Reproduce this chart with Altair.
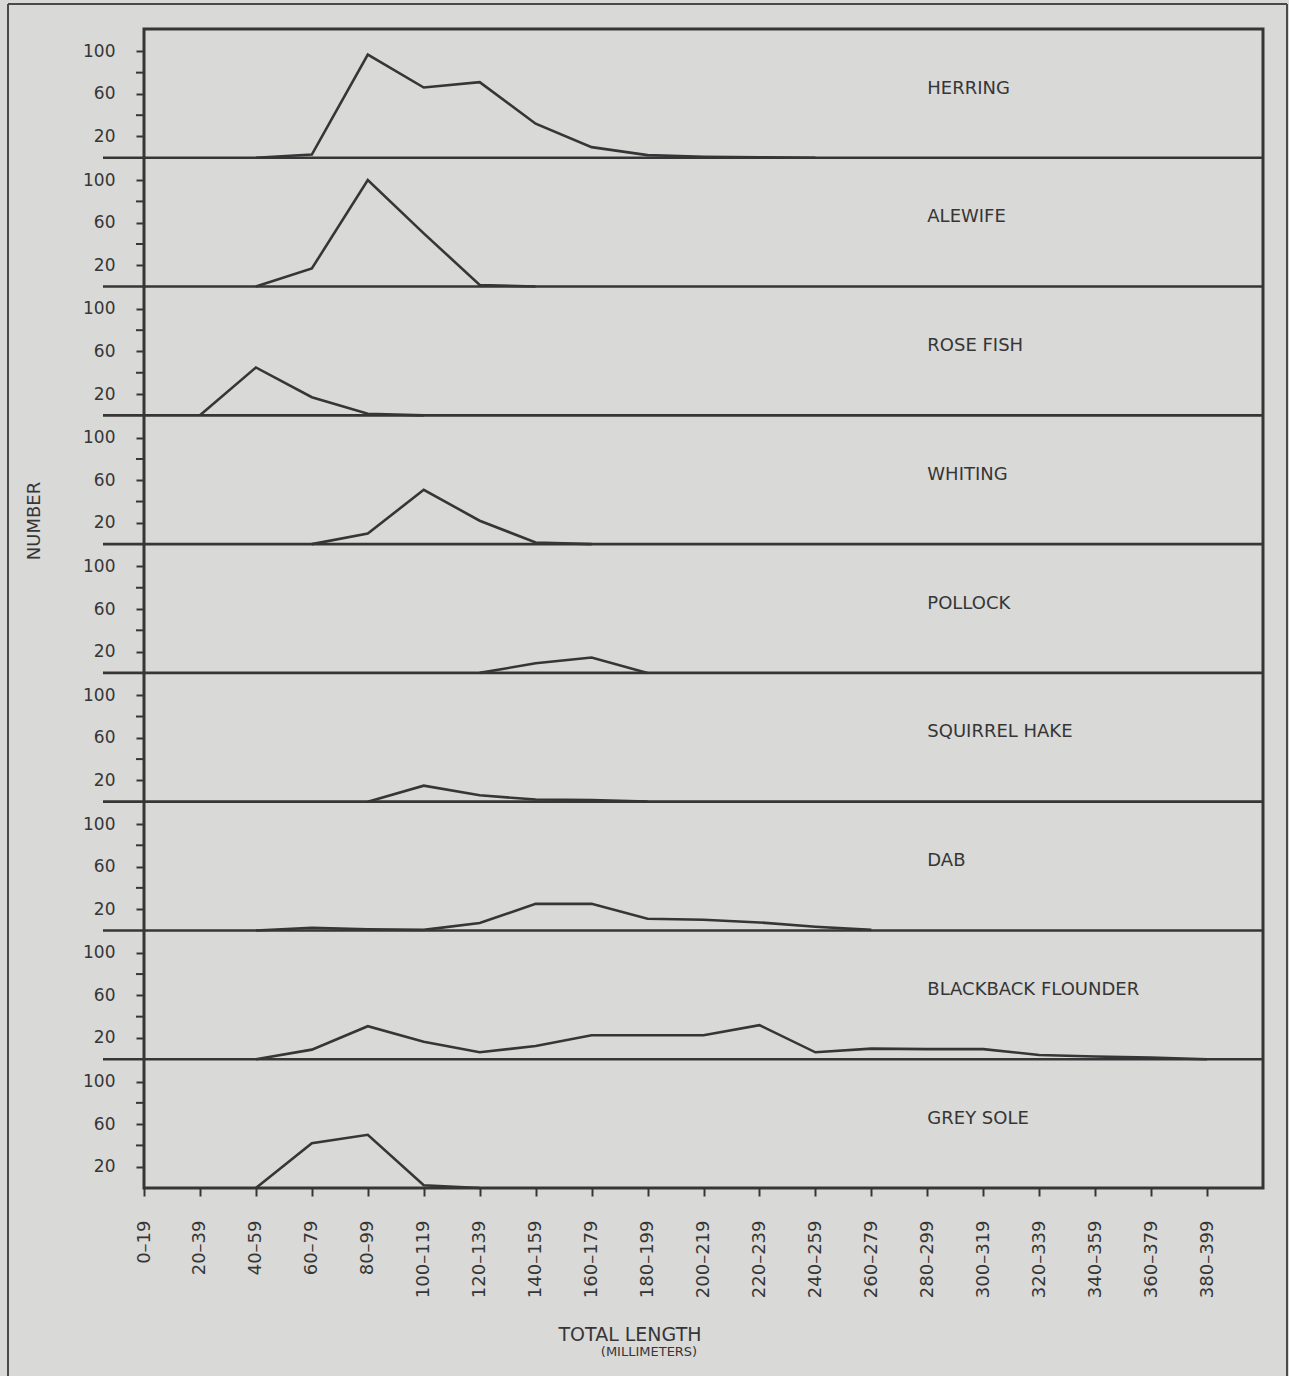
import altair as alt
import pandas as pd

# Length classes (millimetres) along the x axis
length_classes = [
    "0–19", "20–39", "40–59", "60–79", "80–99", "100–119", "120–139",
    "140–159", "160–179", "180–199", "200–219", "220–239", "240–259",
    "260–279", "280–299", "300–319", "320–339", "340–359", "360–379",
    "380–399",
]

# Panels from top to bottom
species = [
    "HERRING", "ALEWIFE", "ROSE FISH", "WHITING", "POLLOCK",
    "SQUIRREL HAKE", "DAB", "BLACKBACK FLOUNDER", "GREY SOLE",
]

# Index of the first length class of each curve
start_class = [2, 2, 1, 3, 6, 4, 2, 2, 2]

# Number of fish per length class, from the first class onwards
herring = [0, 3, 97, 66, 71, 32, 10, 2.5, 1, 0.5, 0]
alewife = [0, 17, 100, 50, 1.5, 0]
rose_fish = [0, 45, 17, 1.5, 0]
whiting = [0, 10, 51, 22, 1.5, 0]
pollock = [0, 9, 14.5, 0]
squirrel_hake = [0, 15, 6, 2, 1.5, 0]
dab = [0, 2.5, 1, 0.5, 7, 25, 25, 11, 10, 7.5, 3.5, 0.5]
blackback_flounder = [0, 9, 31, 16.5, 6.5, 12.5, 22.5, 22.5, 22.5, 32,
                      6.5, 10, 9.5, 9.5, 4, 2.5, 1.5, 0]
grey_sole = [0, 42, 50, 2.5, 0]

counts = [herring, alewife, rose_fish, whiting, pollock, squirrel_hake,
          dab, blackback_flounder, grey_sole]

labelled_ticks = [20, 60, 100]
minor_ticks = [40, 80]
label_height = 65          # count level at which each species name sits
label_class = 14           # species names start at the 280–299 class

SPAN = 121                 # count range of one panel
N = len(species)
W, H = 1119, 1159
INK = "#363636"
FONT = "DejaVu Sans"

rows = []
for i, (name, s0, vals) in enumerate(zip(species, start_class, counts)):
    level = (N - 1 - i) * SPAN
    for j, v in enumerate(vals):
        rows.append({"species": name, "idx": s0 + j, "count": v,
                     "ypos": level + v})
curves = pd.DataFrame(rows)

labels = pd.DataFrame({
    "species": species,
    "idx": [label_class] * N,
    "ypos": [(N - 1 - i) * SPAN + label_height for i in range(N)],
})

separators = pd.DataFrame({"ypos": [k * SPAN for k in range(1, N)]})
minor = pd.DataFrame({"ypos": [k * SPAN + v for k in range(N) for v in minor_ticks]})
one = pd.DataFrame({"a": [0]})

x_label_expr = "[" + ",".join(f"'{c}'" for c in length_classes) + "][datum.value]"
y_label_expr = f"'' + (datum.value % {SPAN})"

x_scale = alt.Scale(domain=[0, len(length_classes)], nice=False, zero=False)
y_scale = alt.Scale(domain=[0, N * SPAN], nice=False, zero=False)

x_enc = alt.X(
    "idx:Q", scale=x_scale,
    axis=alt.Axis(
        values=list(range(len(length_classes))), labelExpr=x_label_expr,
        labelAngle=270, labelAlign="right", labelBaseline="middle",
        labelPadding=24, labelFlush=False, labelOverlap=False,
        tickSize=8, tickWidth=2, tickColor=INK, domain=False, grid=False,
        title=None, labelFont=FONT, labelFontSize=18, labelColor=INK,
    ),
)
y_enc = alt.Y(
    "ypos:Q", scale=y_scale,
    axis=alt.Axis(
        values=[k * SPAN + v for k in range(N) for v in labelled_ticks],
        labelExpr=y_label_expr, labelPadding=21, labelFlush=False,
        labelOverlap=False, tickSize=8, tickWidth=2, tickColor=INK,
        domain=False, grid=False, title=None, labelFont=FONT,
        labelFontSize=17, labelColor=INK,
    ),
)

lines = alt.Chart(curves).mark_line(color=INK, strokeWidth=2.6).encode(
    x=x_enc, y=y_enc, detail="species:N", order="idx:Q"
)

# unlabelled ticks at 40 and 80 in every panel
minor_marks = alt.Chart(minor).mark_rule(color=INK, strokeWidth=2).encode(
    y=alt.Y("ypos:Q", scale=y_scale), x=alt.value(-8), x2=alt.value(0)
)

seps = alt.Chart(separators).mark_rule(color=INK, strokeWidth=2.6).encode(
    y=alt.Y("ypos:Q", scale=y_scale), x=alt.value(-41), x2=alt.value(W)
)

names = alt.Chart(labels).mark_text(
    align="left", baseline="middle", font=FONT, fontSize=18, color=INK
).encode(
    x=alt.X("idx:Q", scale=x_scale), y=alt.Y("ypos:Q", scale=y_scale),
    text="species:N",
)

y_title = alt.Chart(one).mark_text(
    angle=270, font=FONT, fontSize=18, color=INK, align="center",
    baseline="middle"
).encode(x=alt.value(-109), y=alt.value(492), text=alt.value("NUMBER"))

x_title = alt.Chart(one).mark_text(
    font=FONT, fontSize=19, color=INK, align="center", baseline="middle"
).encode(x=alt.value(486), y=alt.value(1306), text=alt.value("TOTAL  LENGTH"))

x_subtitle = alt.Chart(one).mark_text(
    font=FONT, fontSize=13, color=INK, align="center", baseline="middle"
).encode(x=alt.value(505), y=alt.value(1323), text=alt.value("(MILLIMETERS)"))

# page border around the whole figure
border_left = alt.Chart(one).mark_rule(color="#4a4a4a", strokeWidth=2).encode(
    x=alt.value(-136), y=alt.value(-25), y2=alt.value(1350)
)
border_right = alt.Chart(one).mark_rule(color="#4a4a4a", strokeWidth=2).encode(
    x=alt.value(1143), y=alt.value(-25), y2=alt.value(1350)
)
border_top = alt.Chart(one).mark_rule(color="#4a4a4a", strokeWidth=2).encode(
    x=alt.value(-136), x2=alt.value(1143), y=alt.value(-25)
)

chart = alt.layer(
    seps, minor_marks, lines, names, y_title, x_title, x_subtitle,
    border_left, border_right, border_top,
).properties(
    width=W, height=H,
    autosize=alt.AutoSizeParams(type="none"),
    padding={"left": 144, "top": 29, "right": 26, "bottom": 188},
).configure(
    background="#d9d9d8",
).configure_axis(
    labelOverlap=False,
).configure_view(
    stroke=INK, strokeWidth=3,
)

chart.save("out.html", embed_options={"renderer": "svg", "actions": False})
